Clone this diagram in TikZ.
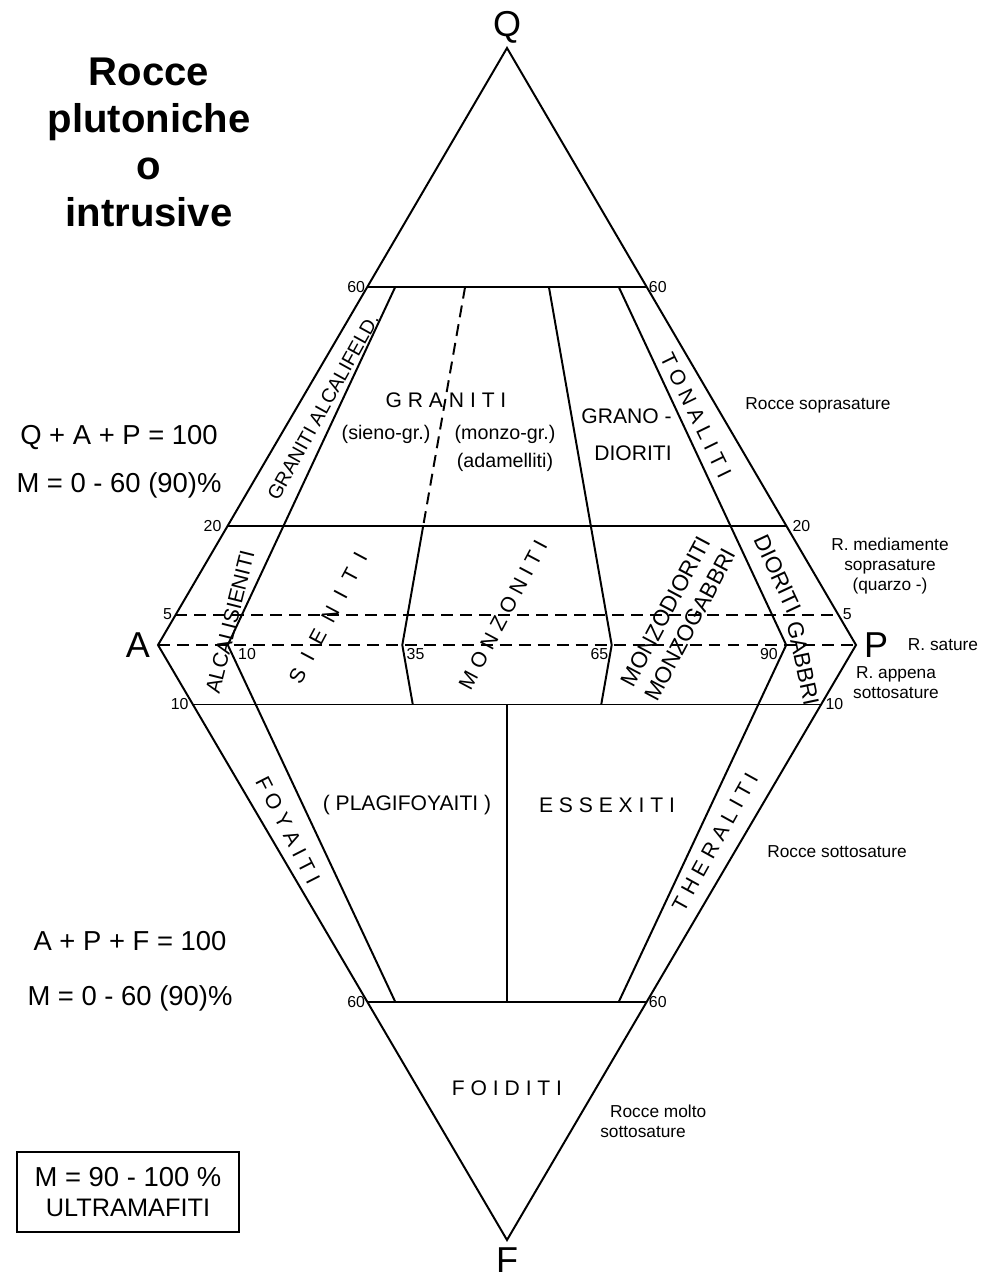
\documentclass[tikz,border=0pt]{standalone}
\usepackage{fontspec}
\setmainfont{Liberation Sans}
\usetikzlibrary{calc, positioning}

\begin{document}
\begin{tikzpicture}[x=0.025cm, y=-0.025cm,
    boundary/.style={line width=1.4pt, line join=miter},
    dashline/.style={line width=1.4pt, dash pattern=on 8.5pt off 5pt},
    vertex/.style={font=\fontsize{25.6}{30}\selectfont, inner sep=0pt},
    ticklbl/.style={font=\fontsize{11.3}{13}\selectfont, inner sep=1.5pt},
    rock/.style={font=\fontsize{15}{18}\selectfont, inner sep=0pt},
    bigrock/.style={font=\fontsize{16}{20}\selectfont, inner sep=0pt, align=center},
    remark/.style={font=\fontsize{12.3}{14.2}\selectfont, align=center, inner sep=0pt},
    formula/.style={align=center, inner sep=0pt}]

\useasboundingbox (0,0) rectangle (981,1280);

% vertici
\coordinate (Q) at (507,48);
\coordinate (A) at (158,645);
\coordinate (P) at (856,645);
\coordinate (F) at (507,1240);

\foreach \r in {10,35,50,65,90}
  \coordinate (b\r) at ($(A)!0.\r!(P)$);

\coordinate (AQ60) at ($(A)!0.6!(Q)$);
\coordinate (PQ60) at ($(P)!0.6!(Q)$);
\coordinate (AQ20) at ($(A)!0.2!(Q)$);
\coordinate (PQ20) at ($(P)!0.2!(Q)$);
\coordinate (AQ5) at ($(A)!0.05!(Q)$);
\coordinate (PQ5) at ($(P)!0.05!(Q)$);
\coordinate (AF10) at ($(A)!0.1!(F)$);
\coordinate (PF10) at ($(P)!0.1!(F)$);
\coordinate (AF60) at ($(A)!0.6!(F)$);
\coordinate (PF60) at ($(P)!0.6!(F)$);

\coordinate (b10Q60) at ($(b10)!0.6!(Q)$);
\coordinate (b10F60) at ($(b10)!0.6!(F)$);
\coordinate (b35Q60) at ($(b35)!0.6!(Q)$);
\coordinate (b35Q20) at ($(b35)!0.2!(Q)$);
\coordinate (b35F10) at ($(b35)!0.1!(F)$);
\coordinate (b65Q60) at ($(b65)!0.6!(Q)$);
\coordinate (b65F10) at ($(b65)!0.1!(F)$);
\coordinate (b90Q60) at ($(b90)!0.6!(Q)$);
\coordinate (b90F60) at ($(b90)!0.6!(F)$);
\coordinate (b50F10) at ($(b50)!0.1!(F)$);
\coordinate (b50F60) at ($(b50)!0.6!(F)$);

% linee
\draw[boundary] (A) -- (Q) -- (P) -- (F) -- cycle;
\draw[boundary] (AQ60) -- (PQ60);
\draw[boundary] (AQ20) -- (PQ20);
\draw[boundary] (AF10) -- (PF10);
\draw[boundary] (AF60) -- (PF60);
\draw[dashline] (AQ5) -- (PQ5);
\draw[dashline] (A) -- (P);
\draw[boundary] (b10Q60) -- (b10) -- (b10F60);
\draw[dashline] (b35Q60) -- (b35Q20);
\draw[boundary] (b35Q20) -- (b35) -- (b35F10);
\draw[boundary] (b65Q60) -- (b65) -- (b65F10);
\draw[boundary] (b90Q60) -- (b90) -- (b90F60);
\draw[boundary] (b50F10) -- (b50F60);

\node[vertex] (lQ) at (507,27) {Q};
\node[vertex] (lA) at (138,645) {A};
\node[vertex] (lP) at (876,645) {P};
\node[vertex] (lF) at (507,1260) {F};

\node[ticklbl, anchor=east] (t60l) at (AQ60) {60};
\node[ticklbl, anchor=west] (t60r) at (PQ60) {60};
\node[ticklbl, anchor=east] (t20l) at ($(AQ20)+(-4,0)$) {20};
\node[ticklbl, anchor=west] (t20r) at ($(PQ20)+(4,0)$) {20};
\node[ticklbl, anchor=east] (t5l) at ($(AQ5)+(-1,-1)$) {5};
\node[ticklbl, anchor=west] (t5r) at ($(PQ5)+(2,-1)$) {5};
\node[ticklbl, anchor=east] (t10l) at ($(AF10)+(-2,0)$) {10};
\node[ticklbl, anchor=west] (t10r) at ($(PF10)+(2,0)$) {10};
\node[ticklbl, anchor=east] (t60bl) at (AF60) {60};
\node[ticklbl, anchor=west] (t60br) at (PF60) {60};
\node[ticklbl, anchor=north west] (t10) at ($(b10)+(8,1)$) {10};
\node[ticklbl, anchor=north west] (t35) at ($(b35)+(2,1)$) {35};
\node[ticklbl, anchor=north east] (t65) at ($(b65)+(-1,1)$) {65};
\node[ticklbl, anchor=north east] (t90) at ($(b90)+(-6,1)$) {90};

\node[font=\fontsize{28.5}{33.4}\selectfont\bfseries, align=center, inner sep=0pt, anchor=north] (title) at (149,58) {Rocce\\plutoniche\\o\\intrusive};
\node[formula, font=\fontsize{19.5}{34}\selectfont, anchor=north] (qap) at (119,425) {Q + A + P = 100\\M = 0 - 60 (90)\%};
\node[formula, font=\fontsize{19.5}{39}\selectfont, anchor=north] (apf) at (130,931) {A + P + F = 100\\M = 0 - 60 (90)\%};
\node[draw, line width=1pt, minimum width=5.55cm, minimum height=2cm, align=center, inner sep=0pt, font=\fontsize{19.5}{21.5}\selectfont] (ultra) at (128,1192) {M = 90 - 100 \%\\\fontsize{18}{21.5}\selectfont ULTRAMAFITI};

\node[remark] (soprasat) at (818,405) {Rocce soprasature};
\node[remark] (medsoprasat) at (890,566) {R. mediamente\\soprasature\\(quarzo -)};
\node[remark] (sature) at (943,645) {R. sature};
\node[remark] (appena) at (896,683) {R. appena\\sottosature};
\node[remark] (sottosat) at (837,852) {Rocce sottosature};
\node[remark, align=left, anchor=west] (molto) at (600,1121) {\hspace*{7pt}Rocce molto\\sottosature};

\node[rock] (graniti) at (446,400) {G R A N I T I};
\node[font=\fontsize{14}{20}\selectfont, inner sep=0pt] (sienogr) at (386,434) {(sieno-gr.)};
\node[font=\fontsize{14}{20}\selectfont, align=center, inner sep=0pt] (monzogr) at (505,448) {(monzo-gr.)\\(adamelliti)};
\node[rock, align=right, anchor=east, font=\fontsize{15}{26}\selectfont] (granodioriti) at (672,435) {GRANO -\\DIORITI};
\node[rock, rotate=61, font=\fontsize{14}{17}\selectfont] (alcalifeld) at (323,407) {GRANITI ALCALIFELD.};
\node[rock, rotate=-64] (tonaliti) at (696,415) {T O N A L I T I};
\node[rock, rotate=76] (alcalisieniti) at (230,622) {ALCALISIENITI};
\node[rock, rotate=62] (sieniti) at (328,618) {S~~I~~E~~N~~I~~T~~I};
\node[rock, rotate=62] (monzoniti) at (503,615) {M O N Z O N I T I};
\node[bigrock, rotate=62] (monzodioriti) at (678,618) {MONZODIORITI\\MONZOGABBRI};
\node[bigrock, rotate=-65] (dioriti) at (778,574) {DIORITI};
\node[bigrock, rotate=-78] (gabbri) at (803,663) {GABBRI};
\node[rock, rotate=-63] (foyaiti) at (288,830) {F O Y A I T I};
\node[rock] (plagifoyaiti) at (407,805) {( PLAGIFOYAITI )};
\node[rock] (essexiti) at (607,805) {E S S E X I T I};
\node[rock, rotate=61] (theraliti) at (715,842) {T H E R A L I T I};
\node[rock] (foiditi) at (507,1088) {F O I D I T I};
\end{tikzpicture}
\end{document}
